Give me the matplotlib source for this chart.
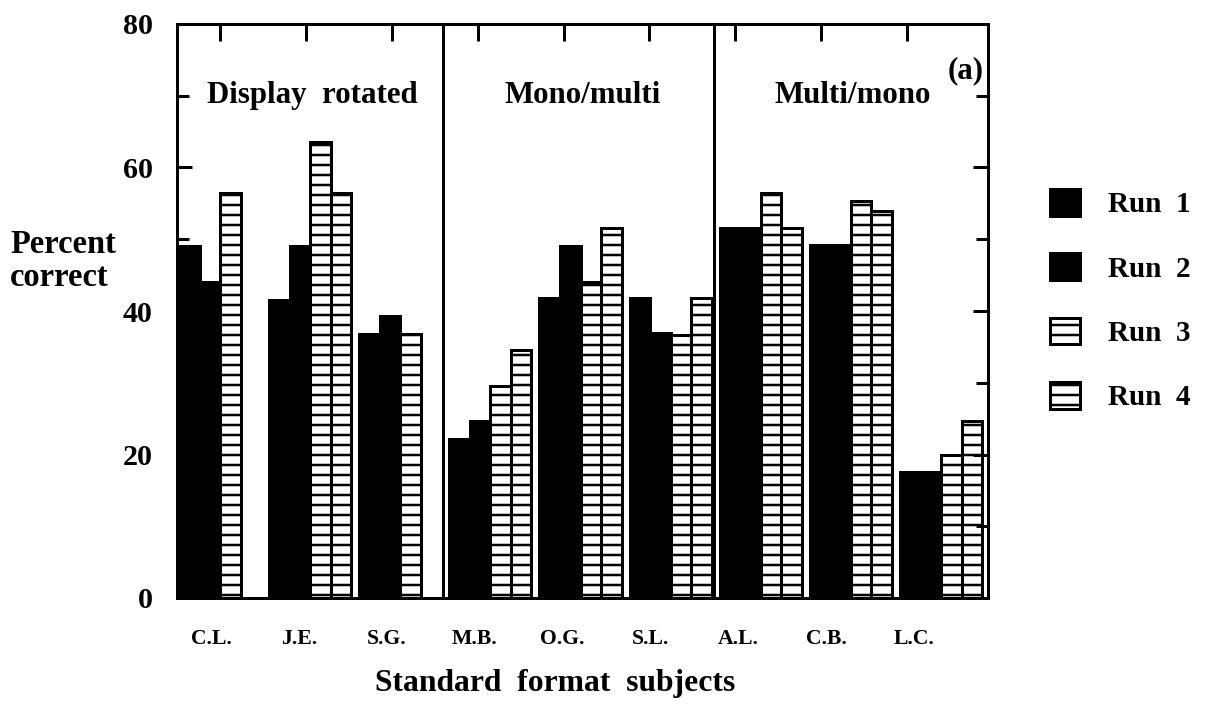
import numpy as np
import matplotlib
matplotlib.use("Agg")
import matplotlib.pyplot as plt

# Percent correct for each subject over four runs (nan = run not recorded)
subjects = ["C.L.", "J.E.", "S.G.", "M.B.", "O.G.", "S.L.", "A.L.", "C.B.", "L.C."]
run1 = [49.0, 41.6, 36.8, 22.2, 41.8, 41.8, 51.6, 49.2, 17.5]
run2 = [44.0, 49.0, 39.3, 24.6, 49.0, 36.9, 51.6, 49.2, 17.5]
run3 = [56.4, 63.5, 36.8, 29.5, 44.1, 36.6, 56.5, 55.3, 20.0]
run4 = [np.nan, 56.4, np.nan, 34.5, 51.5, 41.8, 51.5, 54.0, 24.6]
run_labels = ["Run  1", "Run  2", "Run  3", "Run  4"]
conditions = ["Display  rotated", "Mono/multi", "Multi/mono"]
yticks_major = [0, 20, 40, 60, 80]
yticks_minor = [10, 30, 50, 70]

plt.rcParams["font.family"] = ["Liberation Serif", "DejaVu Serif"]
plt.rcParams["font.weight"] = "bold"
plt.rcParams["hatch.linewidth"] = 1.5
plt.rcParams["hatch.color"] = "black"

DPI = 120
fig = plt.figure(figsize=(1208 / DPI, 705 / DPI), dpi=DPI)
ax = fig.add_axes([177 / 1208, 1 - 598 / 705, 811 / 1208, 574 / 705])

n = len(subjects)
groups = np.arange(n)
width = 0.228
offset = 0.022
lw = 1.8

styles = [
    dict(facecolor="black", edgecolor="black"),
    dict(facecolor="black", edgecolor="black"),
    dict(facecolor="white", edgecolor="black", hatch="--"),
    dict(facecolor="white", edgecolor="black", hatch="--"),
]
handles = []
for j, (vals, lab, st) in enumerate(zip([run1, run2, run3, run4], run_labels, styles)):
    bc = ax.bar(groups + offset + j * width, vals, width=width, align="edge",
                linewidth=lw, label=lab, **st)
    handles.append(bc)

ax.set_xlim(0, n)
ax.set_ylim(0, 80)

# Vertical separators between the three conditions
per_block = n // len(conditions)
for k in range(1, len(conditions)):
    ax.axvline(k * per_block - 0.045, color="black", lw=lw, zorder=3)

# Condition titles
for k, title in enumerate(conditions):
    ax.text(k * per_block + per_block / 2, 70, title, ha="center", va="center",
            fontsize=18.5, fontweight="bold")
ax.text(n - 0.05, 73.5, "(a)", ha="right", va="center", fontsize=18.5, fontweight="bold")

for s in ax.spines.values():
    s.set_linewidth(lw)

ax.set_yticks(yticks_major)
ax.set_yticks(yticks_minor, minor=True)
ax.tick_params(axis="y", which="major", direction="in", left=True, right=True,
               length=9, width=lw, labelsize=18, pad=14.5)
ax.tick_params(axis="y", which="minor", direction="in", left=True, right=True,
               length=7, width=lw)

label_pos = 0.378 + 0.975 * groups
ax.set_xticks(label_pos, subjects)
ax.tick_params(axis="x", length=0, labelsize=13, pad=18.5)

top = ax.secondary_xaxis("top")
top.set_xticks(0.478 + 0.953 * groups)
top.tick_params(direction="in", length=10, width=lw, labeltop=False)
top.spines["top"].set_linewidth(lw)

fig.text(10 / 1208, 1 - 261 / 705, "Percent\ncorrect", ha="left", va="center",
         fontsize=19.5, fontweight="bold", linespacing=1.05)
fig.text(555 / 1208, 1 - 683 / 705, "Standard  format  subjects", ha="center",
         va="center", fontsize=19, fontweight="bold")

fig.legend(handles=handles, labels=run_labels, loc="upper left",
           bbox_to_anchor=(1050 / 1208, 1 - 189 / 705), frameon=False,
           fontsize=17.5, handlelength=1.03, handleheight=1.03, labelspacing=1.2,
           handletextpad=0.95, borderpad=0, borderaxespad=0)

fig.savefig("out.png", dpi=DPI)
